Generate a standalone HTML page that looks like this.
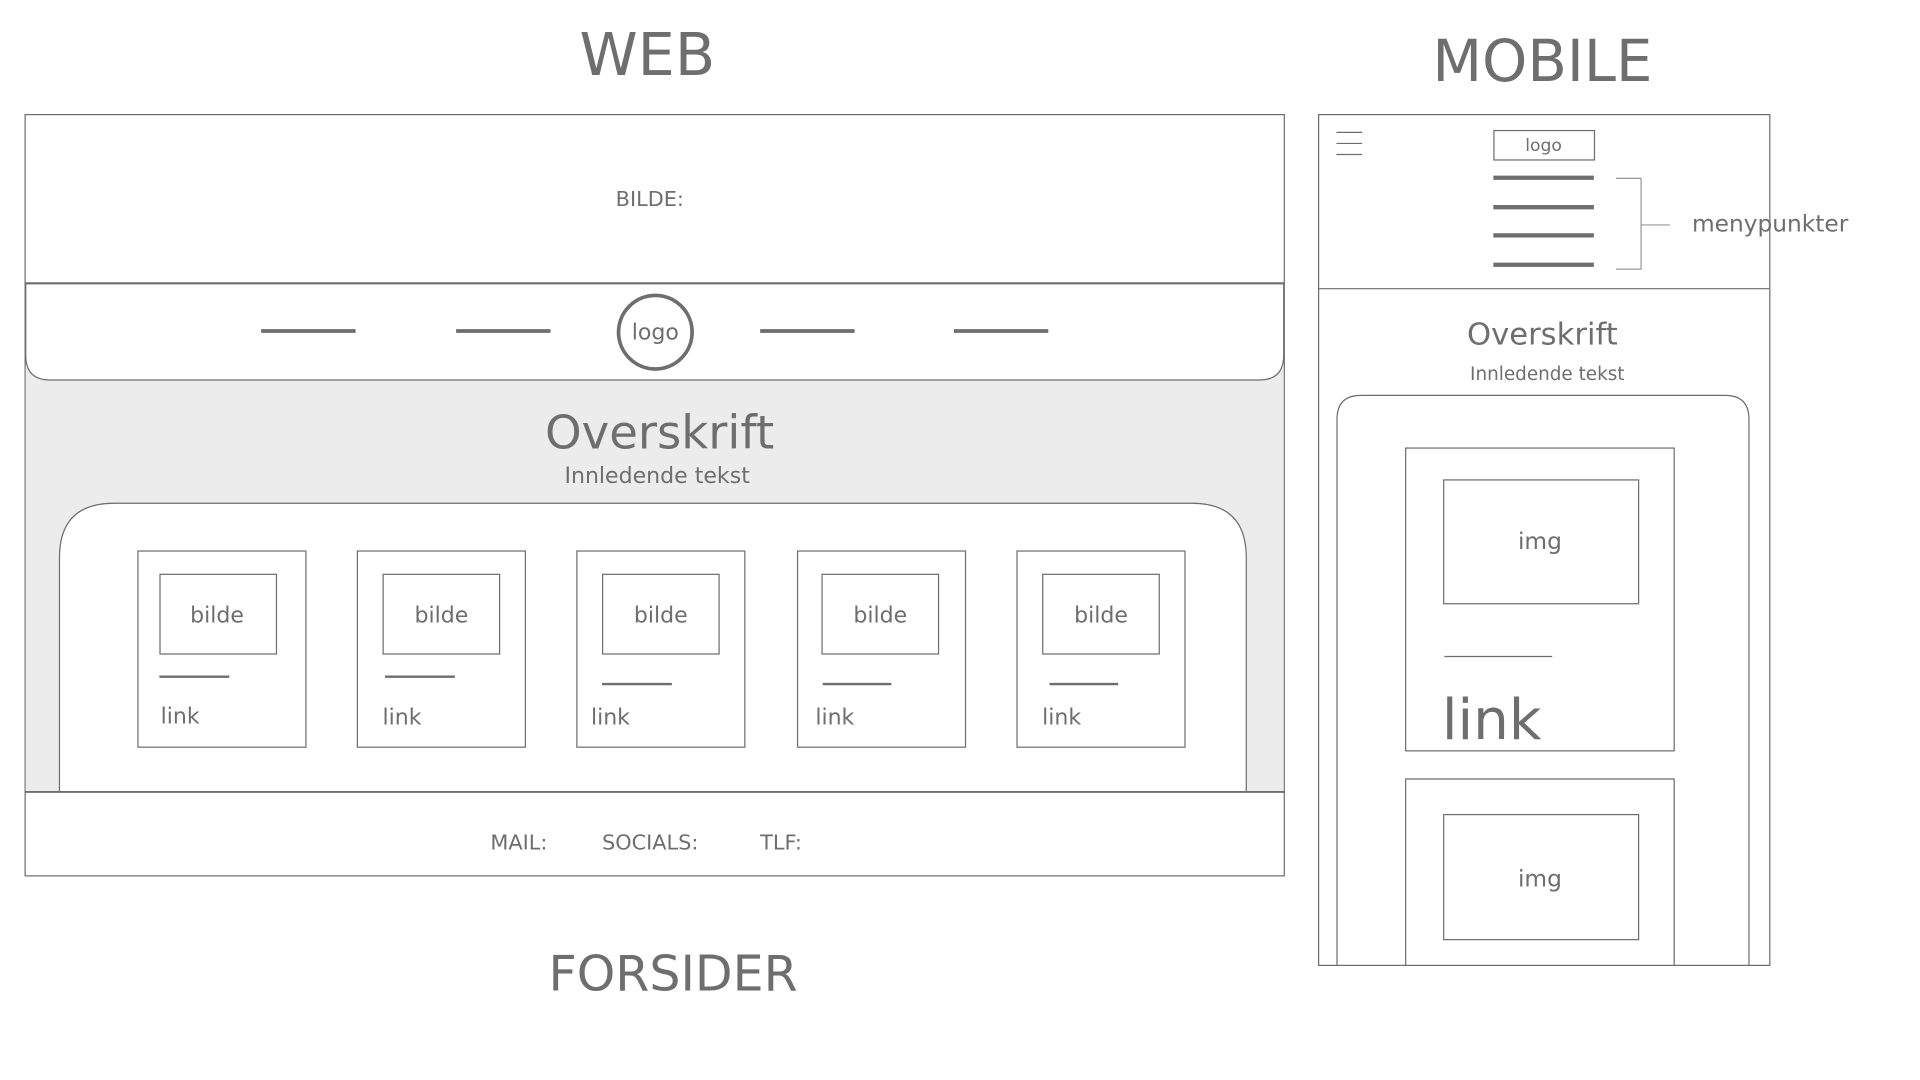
<!DOCTYPE html>
<html><head><meta charset="utf-8"><style>
html,body{margin:0;padding:0;background:#fff;width:1920px;height:1080px;overflow:hidden}
svg{display:block}
text{font-family:"DejaVu Sans","Liberation Sans",sans-serif;fill:#6e6e6e}
</style></head><body>
<svg width="1920" height="1080" viewBox="0 0 1566 881" preserveAspectRatio="none" xmlns="http://www.w3.org/2000/svg">
<g fill="none" stroke="#6e6e6e" stroke-width="1">
<rect x="20.5" y="93.5" width="1027" height="621" fill="#fff"/>
<rect x="21" y="300" width="1026" height="346" fill="#ececec" stroke="none"/>
<path d="M21 231.5 H1047 V290 Q1047 310 1027 310 H41 Q21 310 21 290 Z" fill="#fff"/>
<line x1="20" y1="231" x2="1048" y2="231" stroke-width="1.5"/>
<path d="M48.5 646 V455 Q48.5 410.5 93 410.5 H972 Q1016.5 410.5 1016.5 455 V646" fill="#fff"/>
<line x1="20" y1="646" x2="1048" y2="646" stroke-width="1.5"/>
<g stroke-width="3">
<line x1="213" y1="270" x2="290" y2="270"/><line x1="372" y1="270" x2="449" y2="270"/>
<line x1="620" y1="270" x2="697" y2="270"/><line x1="778" y1="270" x2="855" y2="270"/>
<circle cx="534.5" cy="271" r="30"/>
</g>
<rect x="112.5" y="449.5" width="137" height="160"/>
<rect x="291.5" y="449.5" width="137" height="160"/>
<rect x="470.5" y="449.5" width="137" height="160"/>
<rect x="650.5" y="449.5" width="137" height="160"/>
<rect x="829.5" y="449.5" width="137" height="160"/>
<rect x="130.5" y="468.5" width="95" height="65"/>
<rect x="312.5" y="468.5" width="95" height="65"/>
<rect x="491.5" y="468.5" width="95" height="65"/>
<rect x="670.5" y="468.5" width="95" height="65"/>
<rect x="850.5" y="468.5" width="95" height="65"/>
<g stroke-width="2">
<line x1="130" y1="552" x2="187" y2="552"/><line x1="314" y1="552" x2="371" y2="552"/>
<line x1="491" y1="558" x2="548" y2="558"/><line x1="671" y1="558" x2="727" y2="558"/>
<line x1="856" y1="558" x2="912" y2="558"/>
</g>
<rect x="1075.5" y="93.5" width="368" height="694" fill="#fff"/>
<line x1="1075" y1="235.5" x2="1443" y2="235.5"/>
<line x1="1090" y1="108" x2="1111" y2="108"/><line x1="1090" y1="117" x2="1111" y2="117"/><line x1="1090" y1="126" x2="1111" y2="126"/>
<rect x="1218.5" y="106.5" width="82" height="24"/>
<g stroke-width="3.5">
<line x1="1218" y1="145" x2="1300" y2="145"/><line x1="1218" y1="169" x2="1300" y2="169"/>
<line x1="1218" y1="192" x2="1300" y2="192"/><line x1="1218" y1="216" x2="1300" y2="216"/>
</g>
<path d="M1318 145.5 H1338.5 V219.5 H1318 M1338.5 183.5 H1362" stroke="#999"/>
<path d="M1090.5 788 V342 Q1090.5 322.5 1110 322.5 H1407 Q1426.5 322.5 1426.5 342 V788"/>
<rect x="1146.5" y="365.5" width="219" height="247"/>
<rect x="1177.5" y="391.5" width="159" height="101"/>
<line x1="1178" y1="535.5" x2="1266" y2="535.5"/>
<path d="M1146.5 788 V635.5 H1365.5 V788"/>
<rect x="1177.5" y="664.5" width="159" height="102"/>
</g>
<text x="528" y="61" font-size="48" text-anchor="middle">WEB</text>
<text x="1258" y="66" font-size="47" text-anchor="middle">MOBILE</text>
<text x="549" y="808" font-size="40" text-anchor="middle">FORSIDER</text>
<text x="530" y="168" font-size="17" text-anchor="middle">BILDE:</text>
<text x="534.5" y="277" font-size="18" text-anchor="middle">logo</text>
<text x="538" y="366" font-size="38" text-anchor="middle">Overskrift</text>
<text x="536" y="394" font-size="18" text-anchor="middle">Innledende tekst</text>
<g font-size="18" text-anchor="middle">
<text x="177" y="508">bilde</text><text x="360" y="508">bilde</text><text x="539" y="508">bilde</text><text x="718" y="508">bilde</text><text x="898" y="508">bilde</text>
</g>
<g font-size="18">
<text x="131" y="590">link</text><text x="312" y="591">link</text><text x="482" y="591">link</text><text x="665" y="591">link</text><text x="850" y="591">link</text>
</g>
<text x="400" y="693" font-size="17">MAIL:</text>
<text x="491" y="693" font-size="17">SOCIALS:</text>
<text x="620" y="693" font-size="17">TLF:</text>
<text x="1259" y="123" font-size="14" text-anchor="middle">logo</text>
<text x="1380" y="189" font-size="19">menypunkter</text>
<text x="1258" y="281" font-size="25" text-anchor="middle">Overskrift</text>
<text x="1262" y="310" font-size="15" text-anchor="middle">Innledende tekst</text>
<text x="1256" y="448" font-size="19" text-anchor="middle">img</text>
<text x="1176" y="603" font-size="46">link</text>
<text x="1256" y="723" font-size="19" text-anchor="middle">img</text>
</svg>
</body></html>
